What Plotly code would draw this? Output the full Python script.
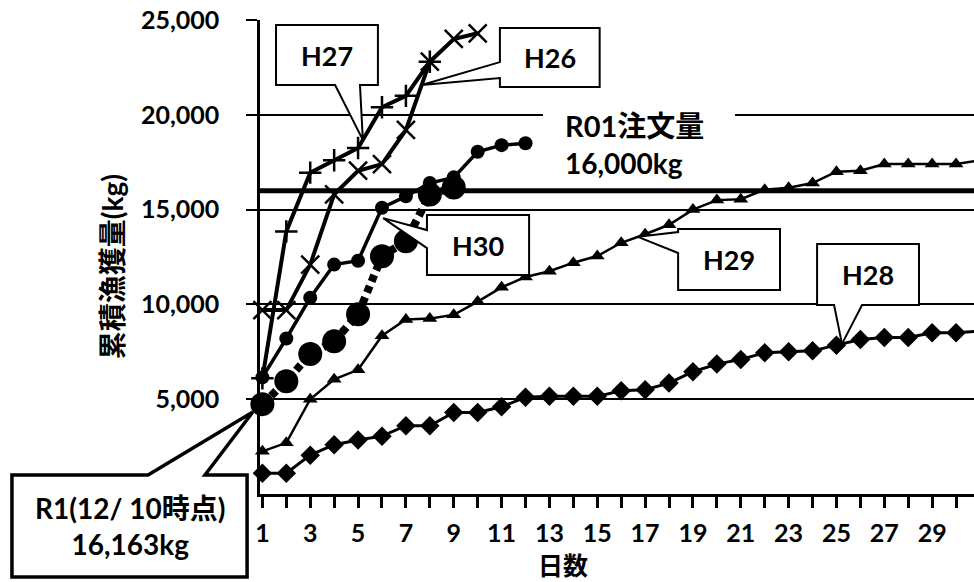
import plotly.graph_objects as go

# ---- data: cumulative catch (kg) by fishing day ----
days = list(range(1, 32))

h26 = [9700, 9700, 12100, 15800, 17050, 17400, 19200, 22800, 24000, 24300]
h27 = [6100, 13850, 16950, 17600, 18250, 20400, 21000, 22800]
h28 = [1100, 1100, 2050, 2600, 2850, 3050, 3600, 3600, 4300, 4300,
       4600, 5100, 5150, 5150, 5150, 5450, 5500, 5850, 6450, 6850,
       7100, 7450, 7500, 7550, 7850, 8150, 8250, 8250, 8500, 8500, 8600]
h29 = [2250, 2700, 5000, 6050, 6550, 8350, 9200, 9250, 9450, 10150,
       10900, 11450, 11750, 12200, 12550, 13250, 13700, 14200, 15000, 15500,
       15550, 16050, 16150, 16400, 17000, 17050, 17400, 17400, 17400, 17400, 17600]
h30 = [6150, 8200, 10350, 12100, 12300, 15100, 15700, 16400, 16700, 18050, 18400, 18500]
r1 = [4740, 5950, 7380, 8050, 9480, 12540, 13330, 15800, 16163]

order_kg = 16000  # R01 order quantity

y_ticks = [5000, 10000, 15000, 20000, 25000]
x_ticks = days
x_labels = [str(d) if d % 2 == 1 else "" for d in days]

# ---- axes ----
X0, X1 = 0.9, 30.75
Y0, Y1 = 0, 25000

FONT = "Lato, 'Noto Sans CJK JP', sans-serif"
TXT = dict(family=FONT, size=25, color="black", weight="bold")


def font(size):
    return dict(family=FONT, size=size, color="black", weight="bold")


def px(x):
    return (x - X0) / (X1 - X0)


def py(y):
    return (y - Y0) / (Y1 - Y0)


def interp(series, x):
    i = int(x) - 1
    f = x - int(x)
    return series[i] + f * (series[i + 1] - series[i])


fig = go.Figure()

styles = [
    ("H28", h28, dict(symbol="diamond", size=15, color="black"), dict(width=3, color="black")),
    ("H29", h29, dict(symbol="triangle-up", size=13, color="black"), dict(width=2.5, color="black")),
    ("H27", h27, dict(symbol="cross-thin", size=16, color="black", line=dict(width=2.5, color="black")),
     dict(width=4, color="black")),
    ("H26", h26, dict(symbol="x-thin", size=18, color="black", line=dict(width=2.5, color="black")),
     dict(width=4, color="black")),
    ("R1", r1, dict(symbol="circle", size=24, color="black"),
     dict(width=8, color="black", dash="7px,5px")),
    ("H30", h30, dict(symbol="circle", size=14, color="black"), dict(width=3.5, color="black")),
]
for name, vals, mk, ln in styles:
    fig.add_trace(go.Scatter(x=days[:len(vals)], y=vals, mode="lines+markers",
                             name=name, marker=mk, line=ln, cliponaxis=False,
                             showlegend=False))

shapes = []

# white backing behind the order-quantity label
shapes.append(dict(type="rect", xref="paper", yref="paper", layer="above",
                   x0=px(12.73), x1=px(20.76), y0=py(16560), y1=py(21040),
                   fillcolor="white", line=dict(width=0)))

# order quantity reference line
shapes.append(dict(type="line", xref="paper", yref="paper", layer="above",
                   x0=0, x1=1, y0=py(order_kg), y1=py(order_kg),
                   line=dict(color="black", width=5)))


def callout(x0, x1, y0, y1, side, b1, b2, tip, width=2):
    """Speech-bubble box (data units) with a wedge from one side to tip."""
    tx, ty = tip
    if side == "bottom":
        pts = [(x0, y1), (x1, y1), (x1, y0), (b2, y0), (tx, ty), (b1, y0), (x0, y0)]
    elif side == "left":
        pts = [(x0, y1), (x1, y1), (x1, y0), (x0, y0), (x0, b2), (tx, ty), (x0, b1)]
    else:  # top
        pts = [(x0, y1), (b1, y1), (tx, ty), (b2, y1), (x1, y1), (x1, y0), (x0, y0)]
    path = "M " + " L ".join(f"{px(a):.5f},{py(b):.5f}" for a, b in pts) + " Z"
    return dict(type="path", xref="paper", yref="paper", layer="above", path=path,
                fillcolor="white", line=dict(color="black", width=width))


def label(x, y, text, size=25, **kw):
    d = dict(xref="paper", yref="paper", x=x, y=y, text=text, showarrow=False,
             xanchor="center", yanchor="middle", font=font(size))
    d.update(kw)
    return d


boxes = [
    ("H27", (1.57, 5.83, 21570, 24735), "bottom", 4.04, 5.08, (5.2, interp(h27, 5.2))),
    ("H26", (10.93, 15.1, 21465, 24576), "left", 22780, 21940, (7.66, interp(h26, 7.66))),
    ("H30", (7.88, 12.15, 11550, 14714), "left", 13920, 12970, (6.05, 14550)),
    ("H29", (18.38, 22.64, 10760, 13976), "left", 13818, 12710, (16.7, interp(h29, 16.7))),
    ("H28", (24.19, 28.45, 9970, 13185), "bottom", 24.9, 26.07, (25.23, interp(h28, 25.23))),
]

annotations = []
for name, (bx0, bx1, by0, by1), side, b1, b2, tip in boxes:
    shapes.append(callout(bx0, bx1, by0, by1, side, b1, b2, tip))
    annotations.append(label(px((bx0 + bx1) / 2), py((by0 + by1) / 2), name, size=27))

# current-season callout pointing at day 1 of R1
shapes.append(callout(-9.47, 0.36, -4377, 1002, "top", -3.78, -1.4, (0.6, 4325), width=3.5))
annotations.append(label(px((-9.47 + 0.36) / 2), py((-4377 + 1002) / 2),
                         f"R1(12/ 10時点)<br>{r1[-1]:,}kg", size=28))

annotations += [
    label(px(13.57), py(19460), "R01注文量", size=29, xanchor="left"),
    label(px(13.57), py(17460), f"{order_kg:,}kg", size=28, xanchor="left"),
    label(-0.207, 0.479, "累積漁獲量(kg)", size=28, textangle=-90),
    label(0.424, -0.149, "日数", size=25),
]

fig.update_layout(
    width=974, height=582,
    margin=dict(l=260, r=0, t=20, b=88),
    paper_bgcolor="white", plot_bgcolor="white",
    font=TXT,
    shapes=shapes, annotations=annotations,
    xaxis=dict(range=[X0, X1], tickmode="array", tickvals=x_ticks, ticktext=x_labels,
               showgrid=False, zeroline=False, showline=True, linecolor="black",
               linewidth=2.5, ticks="outside", ticklen=11, tickwidth=2.5,
               tickcolor="black", ticklabelstandoff=4, tickfont=font(25)),
    yaxis=dict(range=[Y0, Y1], tickmode="array", tickvals=y_ticks,
               ticktext=[f"{v:,}" for v in y_ticks],
               showgrid=True, gridcolor="black", gridwidth=2, zeroline=False,
               showline=True, linecolor="black", linewidth=2.5, ticks="outside",
               ticklen=11, tickwidth=2, tickcolor="black", ticklabelstandoff=22,
               tickfont=TXT),
)

fig.write_html("out.html")
